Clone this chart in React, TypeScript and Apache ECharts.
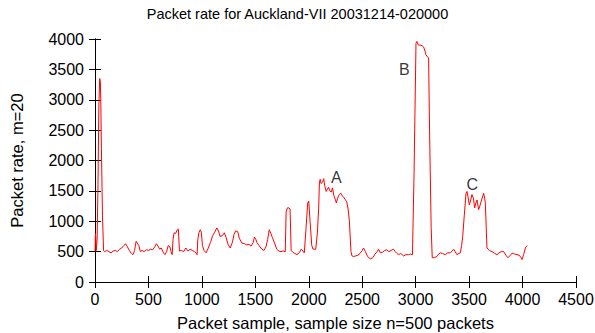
import React, { useEffect, useRef } from "react";
import * as echarts from "echarts";

const sampleIdx = [
  0, 4, 8, 12, 20, 28, 36, 44, 50, 54, 60, 70, 80, 90, 110, 130, 150, 170, 190, 210, 230, 250, 270, 285, 300, 320, 340, 355, 370, 385, 395,
  410, 425, 440, 460, 480, 500, 520, 540, 560, 575, 590, 605, 620, 640, 655, 670, 685, 700, 712, 722, 730, 740, 755, 770, 780, 790, 810,
  830, 850, 870, 890, 910, 930, 945, 955, 962, 972, 985, 995, 1005, 1020, 1040, 1060, 1080, 1100, 1120, 1140, 1155, 1170, 1190, 1210,
  1225, 1245, 1265, 1285, 1300, 1315, 1335, 1350, 1375, 1400, 1420, 1440, 1460, 1480, 1492, 1505, 1515, 1535, 1560, 1580, 1600, 1615,
  1630, 1645, 1660, 1680, 1700, 1720, 1740, 1760, 1780, 1788, 1800, 1815, 1825, 1835, 1850, 1870, 1890, 1910, 1930, 1945, 1958, 1975,
  1990, 2000, 2012, 2028, 2040, 2065, 2080, 2092, 2100, 2107, 2115, 2128, 2140, 2150, 2163, 2175, 2185, 2197, 2210, 2222, 2235, 2250,
  2258, 2270, 2285, 2300, 2312, 2325, 2340, 2355, 2368, 2380, 2395, 2404, 2420, 2440, 2460, 2480, 2500, 2512, 2530, 2550, 2575, 2600,
  2620, 2640, 2653, 2670, 2690, 2710, 2731, 2750, 2770, 2793, 2810, 2825, 2840, 2860, 2887, 2910, 2934, 2950, 2970, 2985, 3003, 3012,
  3025, 3043, 3060, 3074, 3088, 3096, 3105, 3112, 3121, 3130, 3145, 3155, 3175, 3199, 3215, 3230, 3250, 3277, 3300, 3324, 3340, 3355,
  3370, 3386, 3405, 3418, 3430, 3440, 3455, 3471, 3480, 3490, 3502, 3515, 3527, 3540, 3552, 3563, 3574, 3589, 3600, 3614, 3625, 3636,
  3645, 3652, 3660, 3667, 3690, 3714, 3740, 3761, 3780, 3800, 3823, 3845, 3864, 3880, 3902, 3925, 3948, 3970, 3985, 3995, 4010, 4026,
  4042,
];

const packetRate = [
  500, 800, 720, 520, 700, 1600, 2900, 3350, 3300, 3000, 2200, 1100, 520, 500, 520, 500, 480, 510, 520, 500, 540, 560, 600, 630, 590, 520,
  470, 450, 520, 670, 640, 600, 500, 520, 500, 530, 520, 540, 530, 580, 630, 590, 540, 560, 480, 450, 500, 600, 580, 500, 450, 700, 810,
  800, 860, 870, 510, 520, 500, 560, 510, 540, 520, 500, 480, 450, 700, 810, 860, 820, 600, 520, 480, 560, 650, 760, 820, 890, 840, 750,
  760, 810, 740, 620, 560, 650, 780, 840, 830, 720, 640, 630, 610, 620, 590, 650, 740, 700, 650, 600, 540, 520, 580, 700, 860, 800, 730,
  640, 540, 510, 500, 510, 500, 1150, 1220, 1220, 1200, 520, 490, 470, 450, 480, 540, 510, 480, 900, 1300, 1330, 1000, 600, 540, 540,
  800, 1200, 1650, 1690, 1620, 1640, 1700, 1580, 1490, 1530, 1560, 1500, 1480, 1550, 1420, 1350, 1300, 1380, 1440, 1460, 1420, 1400,
  1360, 1320, 1200, 1000, 500, 430, 420, 430, 440, 470, 520, 560, 500, 420, 380, 400, 460, 500, 540, 480, 490, 520, 530, 500, 520, 540,
  500, 470, 450, 470, 430, 450, 450, 460, 450, 1800, 3930, 3960, 3900, 3900, 3890, 3870, 3800, 3740, 3720, 3700, 3690, 2500, 900, 400,
  400, 420, 460, 480, 470, 450, 480, 480, 510, 540, 500, 450, 470, 480, 600, 750, 1100, 1460, 1490, 1400, 1270, 1350, 1440, 1380, 1220,
  1300, 1350, 1190, 1250, 1330, 1400, 1460, 1380, 1300, 900, 560, 520, 500, 470, 450, 480, 500, 500, 440, 400, 430, 475, 460, 450, 440,
  400, 370, 450, 560, 600,
];

const annotLabels = ["A", "B", "C"];
const annotX = [2257, 2893, 3530];
const annotY = [1716, 3506, 1601];

const xTicks = [0, 500, 1000, 1500, 2000, 2500, 3000, 3500, 4000, 4500];
const yTicks = [0, 500, 1000, 1500, 2000, 2500, 3000, 3500, 4000];

const FONT = "Liberation Sans, Arial, Helvetica, sans-serif";

export default function App() {
  const ref = useRef<HTMLDivElement>(null);

  useEffect(() => {
    if (!ref.current) return;
    const chart = echarts.init(ref.current, undefined, { renderer: "svg" });
    const lineData = sampleIdx.map((x, i) => [x, packetRate[i]]);
    const annData = annotLabels.map((l, i) => ({ name: l, value: [annotX[i], annotY[i]] }));
    const axisLine = { show: true, lineStyle: { color: "#000", width: 1 } };
    const tick = { show: true, inside: true, length: 6, lineStyle: { color: "#000", width: 1 } };
    const xMin = xTicks[0];
    const xMax = xTicks[xTicks.length - 1];
    const yMin = yTicks[0];
    const yMax = yTicks[yTicks.length - 1];
    const plain = (v: number) => String(v);

    chart.setOption({
      animation: false,
      backgroundColor: "#fff",
      title: {
        text: "Packet rate for Auckland-VII 20031214-020000",
        left: "center",
        top: 1,
        textStyle: { fontFamily: FONT, fontSize: 14.5, fontWeight: "normal", color: "#000" },
      },
      grid: { left: 95, right: 19, top: 39, bottom: 51, containLabel: false, outerBoundsMode: "none" },
      xAxis: [
        {
          type: "value",
          min: xMin,
          max: xMax,
          interval: 500,
          position: "bottom",
          axisLine,
          axisTick: tick,
          splitLine: { show: false },
          axisLabel: { show: true, margin: 9, fontFamily: FONT, fontSize: 16, color: "#000", formatter: plain },
          name: "Packet sample, sample size n=500 packets",
          nameLocation: "middle",
          nameGap: 32,
          nameTextStyle: { fontFamily: FONT, fontSize: 16.5, color: "#000" },
        },
        {
          type: "value",
          min: xMin,
          max: xMax,
          interval: 500,
          position: "top",
          axisLine,
          axisTick: tick,
          splitLine: { show: false },
          axisLabel: { show: false },
        },
      ],
      yAxis: [
        {
          type: "value",
          min: yMin,
          max: yMax,
          interval: 500,
          position: "left",
          axisLine,
          axisTick: tick,
          splitLine: { show: false },
          axisLabel: { show: true, margin: 11, fontFamily: FONT, fontSize: 16, color: "#000", formatter: plain },
          name: "Packet rate, m=20",
          nameLocation: "middle",
          nameGap: 70,
          nameRotate: 90,
          nameTextStyle: { fontFamily: FONT, fontSize: 16.5, color: "#000" },
        },
        {
          type: "value",
          min: yMin,
          max: yMax,
          interval: 500,
          position: "right",
          axisLine,
          axisTick: tick,
          splitLine: { show: false },
          axisLabel: { show: false },
        },
      ],
      series: [
        {
          type: "line",
          data: lineData,
          xAxisIndex: 0,
          yAxisIndex: 0,
          showSymbol: false,
          symbol: "none",
          lineStyle: { color: "#ff0000", width: 1 },
          z: 3,
        },
        {
          type: "scatter",
          data: annData,
          xAxisIndex: 0,
          yAxisIndex: 0,
          symbolSize: 0,
          label: {
            show: true,
            position: "inside",
            formatter: (p: any) => p.name,
            fontFamily: FONT,
            fontSize: 16,
            color: "#000",
          },
          z: 4,
        },
      ],
    });
    return () => chart.dispose();
  }, []);

  return <div ref={ref} style={{ width: 595, height: 333, position: "absolute", left: 0, top: 0 }} />;
}
